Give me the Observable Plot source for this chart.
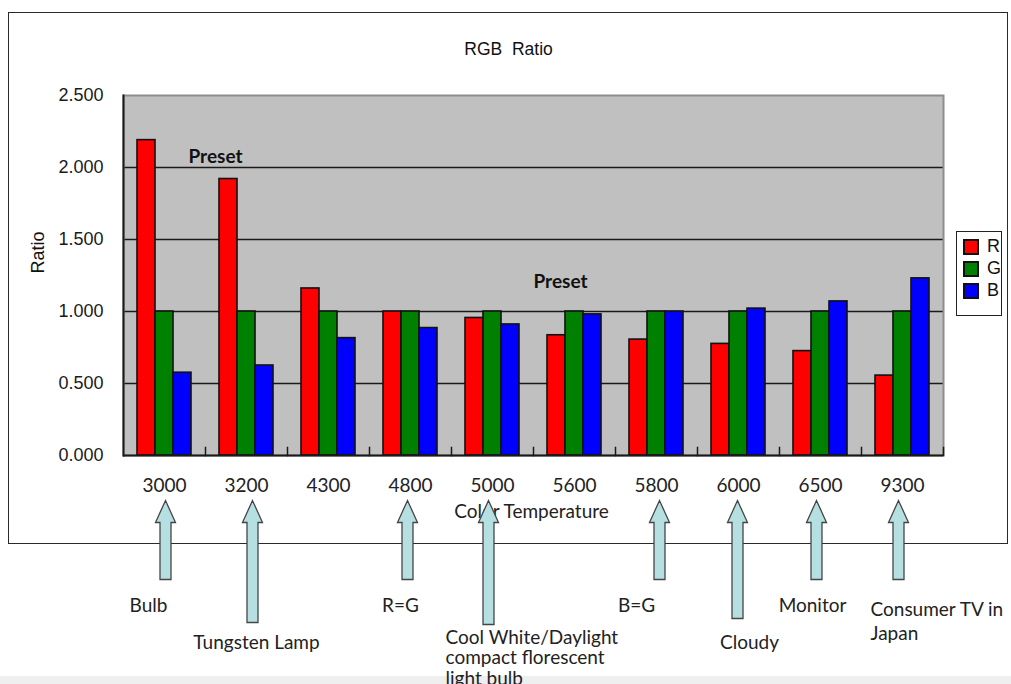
<!DOCTYPE html>
<html><head><meta charset="utf-8">
<script src="https://cdn.jsdelivr.net/npm/d3@7"></script>
<script src="https://cdn.jsdelivr.net/npm/@observablehq/plot@0.6"></script>
<style>
body{margin:0;background:#fff;}
#wrap{position:relative;width:1011px;height:684px;overflow:hidden;}
#outer{position:absolute;left:8px;top:12px;width:998px;height:530px;border:1.5px solid #2a2a2a;}
#band{position:absolute;left:0;top:676px;width:1011px;height:8px;background:#efefef;}
#chart{position:absolute;left:0;top:0;}
#legend{position:absolute;left:956px;top:231px;width:46px;height:85px;border:1.5px solid #222;background:#fff;box-sizing:border-box;padding:4px 0 0 7px;}
#legend .plot-swatch{height:28px !important;margin:0 !important;padding:0 !important;gap:6px;font-size:18px !important;font-family:"Liberation Sans",Arial,sans-serif !important;color:#111 !important;}
#legend svg rect{stroke:#111;stroke-width:2px;}
#legend div{margin:0 !important;font-family:"Liberation Sans",Arial,sans-serif !important;font-size:18px !important;color:#111;}
</style></head>
<body><div id="wrap"><div id="outer"></div><div id="band"></div><div id="chart"></div><div id="legend"></div></div>
<script>
// ---- data ----
const temps = ["3000","3200","4300","4800","5000","5600","5800","6000","6500","9300"];
const seriesNames = ["R","G","B"];
const seriesColors = ["#ff0000","#008000","#0000ff"];
const rValues = [2.19,1.92,1.16,1.0,0.955,0.835,0.805,0.775,0.725,0.555];
const gValues = [1.0,1.0,1.0,1.0,1.0,1.0,1.0,1.0,1.0,1.0];
const bValues = [0.575,0.625,0.815,0.885,0.91,0.98,1.0,1.02,1.07,1.23];
const yTicks = [0,0.5,1,1.5,2,2.5];
const presetTemps = ["3200","5600"];
const presetRatios = [2.076,1.208];
const noteTemps = ["3000","3200","4800","5000","5800","6000","6500","9300"];
const noteLabels = ["Bulb","Tungsten Lamp","R=G","Cool White/Daylight\ncompact florescent\nlight bulb","B=G","Cloudy","Monitor","Consumer TV in\nJapan"];

// ---- table ----
const rows = [];
temps.forEach((t,i)=>{
  rows.push({temp:t, series:"R", value:rValues[i]});
  rows.push({temp:t, series:"G", value:gValues[i]});
  rows.push({temp:t, series:"B", value:bValues[i]});
});
const notes = noteTemps.map((t,i)=>({temp:t, label:noteLabels[i]}));
const presets = presetTemps.map((t,i)=>({temp:t, ratio:presetRatios[i], label:"Preset"}));

// per-note layout (style, not data)
const noteStyle = {
  "3000":{len:79, adx:1,  tdx:-16, tdy:142.5, anchor:"middle", lh:1},
  "3200":{len:122,adx:6,  tdx:10,  tdy:179.5, anchor:"middle", lh:1},
  "4800":{len:79, adx:-3, tdx:-10, tdy:142.5, anchor:"middle", lh:1},
  "5000":{len:124,adx:-4, tdx:-47, tdy:174.5, anchor:"start",  lh:1.06},
  "5800":{len:79, adx:3,  tdx:-20, tdy:142.5, anchor:"middle", lh:1},
  "6000":{len:118,adx:-1, tdx:11,  tdy:179.5, anchor:"middle", lh:1},
  "6500":{len:79, adx:-4, tdx:-8,  tdy:142.5, anchor:"middle", lh:1},
  "9300":{len:79, adx:-4, tdx:-32, tdy:142.5, anchor:"start",  lh:1.3}
};

const blockArrow = {
  draw(context, l) {
    const hw = 10, sw = 5.5, hh = 22;
    context.moveTo(-sw, 0);
    context.lineTo(-sw, -l + hh);
    context.lineTo(-hw, -l + hh);
    context.lineTo(0, -l);
    context.lineTo(hw, -l + hh);
    context.lineTo(sw, -l + hh);
    context.lineTo(sw, 0);
    context.closePath();
  }
};

const calibri = "Lato, 'Open Sans', sans-serif";
const arial = "'Liberation Sans', Arial, sans-serif";

const noteMarks = [];
for (const n of notes) {
  const s = noteStyle[n.temp];
  noteMarks.push(Plot.text([n], {fx:"temp", text:"label", frameAnchor:"bottom", dx:s.tdx, dy:s.tdy,
    textAnchor:s.anchor, lineAnchor:"top", lineHeight:s.lh, fontSize:19, fontFamily:calibri, fill:"#222"}));
}
const arrowMarks = [];
for (const n of notes) {
  const s = noteStyle[n.temp];
  arrowMarks.push(Plot.vector([n], {fx:"temp", frameAnchor:"bottom", dx:s.adx, dy:45, anchor:"end",
    length:s.len, rotate:0, shape:blockArrow, fill:"#b5dfe1", stroke:"#454545", strokeWidth:1.3, strokeLinejoin:"miter"}));
}

const chart = Plot.plot({
  width: 1011, height: 684,
  marginLeft: 123, marginRight: 68, marginTop: 95, marginBottom: 229,
  style: {background: "transparent", overflow: "visible"},
  fx: {domain: temps, padding: 0, axis: null},
  x: {domain: seriesNames, paddingInner: 0, paddingOuter: 0.7, axis: null},
  y: {domain: [0, 2.5], axis: null},
  color: {domain: seriesNames, range: seriesColors},
  marks: [
    Plot.frame({facet: "super", fill: "#c0c0c0", stroke: null}),
    Plot.gridY([0.5,1,1.5,2], {stroke: "#1a1a1a", strokeOpacity: 1, strokeWidth: 1.6}),
    Plot.frame({facet: "super", stroke: "#8e8e8e", strokeWidth: 2}),
    Plot.barY(rows, {fx: "temp", x: "series", y: "value", fill: "series", stroke: "#111", strokeWidth: 1.6, inset: 0}),
    Plot.ruleY([0], {stroke: "#1a1a1a", strokeWidth: 2}),
    Plot.frame({facet: "super", anchor: "left", stroke: "#1a1a1a", strokeWidth: 2}),
    Plot.frame({anchor: "right", insetTop: 352, stroke: "#1a1a1a", strokeWidth: 1.5}),
    Plot.axisY(yTicks, {tickSize: 0, tickPadding: 20, tickFormat: d3.format(".3f"), fontSize: 18, fontFamily: arial, fill: "#1a1a1a", label: null}),
    Plot.axisFx({anchor: "bottom", tickSize: 0, tickPadding: 23, fontSize: 19, fontFamily: calibri, fill: "#222", label: null}),
    Plot.text(presets, {fx: "temp", y: "ratio", text: "label", textAnchor: "start", dx: -58, fontSize: 19, fontWeight: "bold", fontFamily: calibri, fill: "#111", filter: d => d.temp === "3200"}),
    Plot.text(presets, {fx: "temp", y: "ratio", text: "label", textAnchor: "start", dx: -41, fontSize: 19, fontWeight: "bold", fontFamily: calibri, fill: "#111", filter: d => d.temp === "5600"}),
    Plot.text(["RGB  Ratio"], {facet: "super", frameAnchor: "top", dy: -53, dx: -25, fontSize: 17.5, fontFamily: arial, fill: "#111"}),
    Plot.text(["Ratio"], {facet: "super", frameAnchor: "left", dx: -85, dy: -2, rotate: -90, fontSize: 18, fontFamily: arial, fill: "#111"}),
    Plot.text(["Color Temperature"], {facet: "super", frameAnchor: "bottom", dy: 62, dx: -2, fontSize: 19, fontFamily: calibri, fill: "#222"}),
    ...noteMarks,
    ...arrowMarks
  ]
});
document.getElementById("chart").appendChild(chart);

const legend = Plot.legend({color: {domain: seriesNames, range: seriesColors}, columns: 1, swatchSize: 14});
document.getElementById("legend").appendChild(legend);
</script></body></html>
